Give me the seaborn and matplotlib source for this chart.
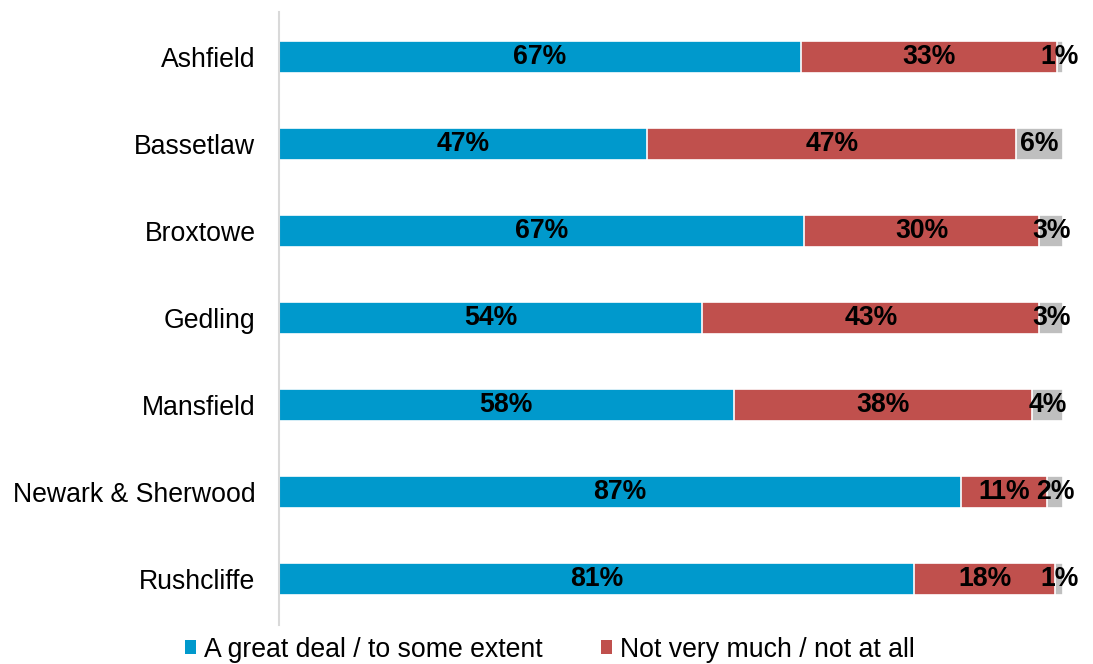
import pandas as pd
import seaborn as sns
import matplotlib.pyplot as plt
from matplotlib.patches import Patch

# --- data ---
areas = ['Ashfield', 'Bassetlaw', 'Broxtowe', 'Gedling', 'Mansfield',
         'Newark & Sherwood', 'Rushcliffe']
great_deal = [66.6, 47, 67, 54, 58, 87, 81]
not_much = [32.6, 47, 30, 43, 38, 11, 18]
dont_know = [0.8, 6, 3, 3, 4, 2, 1]

series = ['A great deal / to some extent', 'Not very much / not at all', "Don't know"]
colors = ['#0099CC', '#C0504D', '#BFBFBF']

df = pd.DataFrame({'area': areas, series[0]: great_deal,
                   series[1]: not_much, series[2]: dont_know})

sns.set_style('white')
plt.rcParams['font.family'] = ['Liberation Sans', 'DejaVu Sans']

fig = plt.figure(figsize=(10.93, 6.64), dpi=100)
ax = fig.add_axes([279 / 1093, 1 - 625 / 664, (1063 - 279) / 1093, (625 - 12) / 664])

# stacked bars: draw cumulative totals, widest first
cum = df[series].cumsum(axis=1)
for s, c in reversed(list(zip(series, colors))):
    sns.barplot(x=cum[s], y=df['area'], orient='h', color=c, saturation=1,
                width=0.37, edgecolor='white', linewidth=1.2, ax=ax)

# segment labels
for i, row in df.iterrows():
    left = 0
    for s in series:
        v = row[s]
        ax.text(left + v / 2, i, f'{v:.0f}%', ha='center', va='center',
                fontsize=19.2, fontweight='bold', color='black')
        left += v

ax.set_xlim(0, 100)
ax.set_ylim(6.53, -0.52)
ax.set_xlabel('')
ax.set_ylabel('')
ax.set_xticks([])
ax.tick_params(axis='y', length=0, pad=17, labelsize=19.2, labelcolor='black')
for sp in ['top', 'right', 'bottom']:
    ax.spines[sp].set_visible(False)
ax.spines['left'].set_color('#D9D9D9')
ax.spines['left'].set_linewidth(1.5)

handles = [Patch(facecolor=c, edgecolor='none') for c in colors[:2]]
leg = fig.legend(handles, series[:2], loc='lower left', bbox_to_anchor=(0.168, 0.0),
                 ncol=2, frameon=False, fontsize=19.2, handlelength=0.4, handleheight=0.4,
                 handletextpad=0.3, columnspacing=2.2, borderpad=0, borderaxespad=0.05)
for t in leg.get_texts():
    t.set_color('black')

fig.savefig('out.png', dpi=100)
